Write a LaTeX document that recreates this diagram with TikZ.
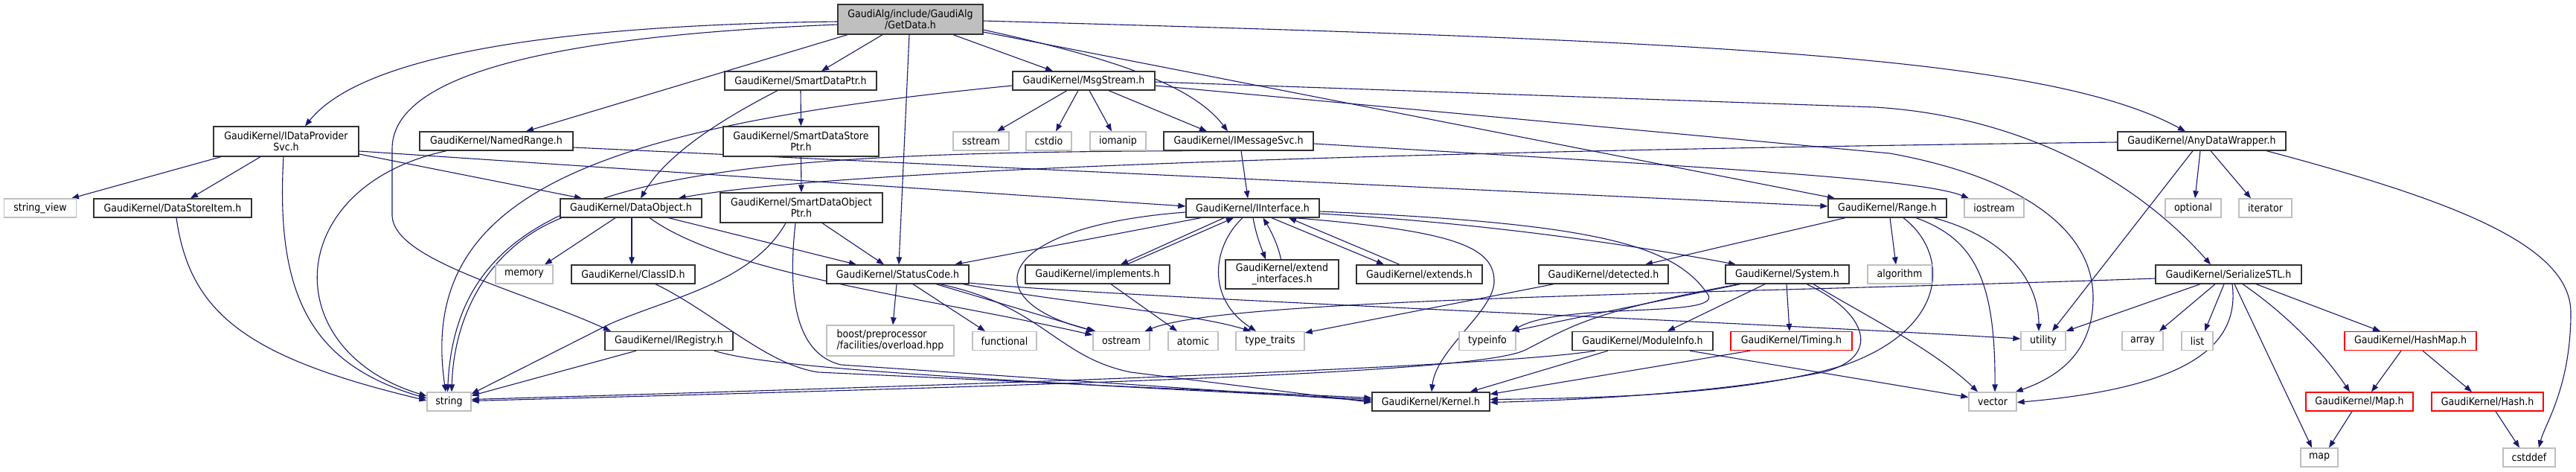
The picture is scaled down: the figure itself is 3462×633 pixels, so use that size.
\documentclass[tikz,border=0pt]{standalone}
\usepackage{fontspec}
\setmainfont{DejaVu Sans Condensed}
\usetikzlibrary{arrows.meta,calc}
\definecolor{edgec}{HTML}{191970}
\definecolor{greyb}{HTML}{BFBFBF}
\definecolor{rootf}{HTML}{BFBFBF}
\pgfdeclarelayer{bg}
\pgfsetlayers{bg,main}
\begin{document}
\begin{tikzpicture}[x=1pt,y=-1pt,
  every node/.style={font=\fontsize{14}{15}\selectfont, inner sep=0pt, align=center},
  hbox/.style={draw=black!80, line width=1.3pt, fill=white, minimum height=25pt},
  tbox/.style={hbox, minimum height=40pt},
  sbox/.style={draw=greyb, line width=1.3pt, fill=white, minimum height=25pt},
  rbox/.style={draw=red, line width=1.3pt, fill=white, minimum height=25pt},
  rootbox/.style={draw=black!80, line width=1.3pt, fill=rootf, minimum height=40pt},
  e/.style={draw=edgec, line width=1.1pt, -{Triangle[length=10pt,width=7.5pt]}}
]
\useasboundingbox (0,0) rectangle (3462,633);
\begin{pgfonlayer}{bg}
\fill[white] (0,0) rectangle (3462,633);
\end{pgfonlayer}

% ---------- nodes ----------
\node[rootbox, minimum width=195pt] (G) at (1223.5,26) {GaudiAlg/include/GaudiAlg\\/GetData.h};
\node[tbox, minimum width=195pt] (IDP) at (384.5,190) {GaudiKernel/IDataProvider\\Svc.h};
\node[hbox, minimum width=206pt] (NR) at (667,189.5) {GaudiKernel/NamedRange.h};
\node[hbox, minimum width=204pt] (SDP) at (1076,108.5) {GaudiKernel/SmartDataPtr.h};
\node[hbox, minimum width=191pt] (MS) at (1456.5,108.5) {GaudiKernel/MsgStream.h};
\node[tbox, minimum width=209pt] (SDSP) at (1076.5,190) {GaudiKernel/SmartDataStore\\Ptr.h};
\node[sbox, minimum width=75pt] (sstream) at (1318.5,189.5) {sstream};
\node[sbox, minimum width=61pt] (cstdio) at (1409.5,189.5) {cstdio};
\node[sbox, minimum width=75pt] (iomanip) at (1502.5,189.5) {iomanip};
\node[hbox, minimum width=201pt] (IMS) at (1664.5,189.5) {GaudiKernel/IMessageSvc.h};
\node[hbox, minimum width=226pt] (ADW) at (2959,189.5) {GaudiKernel/AnyDataWrapper.h};
\node[sbox, minimum width=97pt] (sv) at (54,279.5) {string\_view};
\node[hbox, minimum width=212pt] (DSI) at (232,279.5) {GaudiKernel/DataStoreItem.h};
\node[hbox, minimum width=190pt] (DO) at (848,279.5) {GaudiKernel/DataObject.h};
\node[tbox, minimum width=218pt] (SDOP) at (1077,279) {GaudiKernel/SmartDataObject\\Ptr.h};
\node[hbox, minimum width=179pt] (II) at (1683.5,279.5) {GaudiKernel/IInterface.h};
\node[hbox, minimum width=159pt] (R) at (2536.5,279.5) {GaudiKernel/Range.h};
\node[sbox, minimum width=80pt] (iostream) at (2680,279.5) {iostream};
\node[sbox, minimum width=75pt] (optional) at (2947.5,279.5) {optional};
\node[sbox, minimum width=71pt] (iterator) at (3044.5,279.5) {iterator};
\node[sbox, minimum width=77pt] (memory) at (704.5,368.5) {memory};
\node[hbox, minimum width=166pt] (ClassID) at (851,368.5) {GaudiKernel/ClassID.h};
\node[hbox, minimum width=191pt] (SC) at (1206.5,368.5) {GaudiKernel/StatusCode.h};
\node[hbox, minimum width=194pt] (impl) at (1475,368.5) {GaudiKernel/implements.h};
\node[tbox, minimum width=152pt, minimum height=39pt] (ExtI) at (1723,368.5) {GaudiKernel/extend\\\_interfaces.h};
\node[hbox, minimum width=169pt] (ext) at (1907.5,368.5) {GaudiKernel/extends.h};
\node[hbox, minimum width=174pt] (det) at (2155,368.5) {GaudiKernel/detected.h};
\node[hbox, minimum width=166pt] (Sys) at (2402,368.5) {GaudiKernel/System.h};
\node[sbox, minimum width=86pt] (alg) at (2553,368.5) {algorithm};
\node[hbox, minimum width=196pt] (SSTL) at (2995,368.5) {GaudiKernel/SerializeSTL.h};
\node[hbox, minimum width=172pt] (IReg) at (899,458) {GaudiKernel/IRegistry.h};
\node[sbox, minimum width=171pt, minimum height=41pt, align=left] (boost) at (1196.5,457.5) {boost/preprocessor\\/facilities/overload.hpp};
\node[sbox, minimum width=86pt] (functional) at (1350,458) {functional};
\node[sbox, minimum width=76pt] (ostream) at (1507,458) {ostream};
\node[sbox, minimum width=67pt] (atomic) at (1603.5,458) {atomic};
\node[sbox, minimum width=92pt] (tt) at (1707,458) {type\_traits};
\node[sbox, minimum width=76pt] (typeinfo) at (1999,458) {typeinfo};
\node[hbox, minimum width=189pt] (MI) at (2207.5,458) {GaudiKernel/ModuleInfo.h};
\node[rbox, minimum width=163pt] (Tim) at (2407.5,458) {GaudiKernel/Timing.h};
\node[sbox, minimum width=60pt] (utility) at (2746,458) {utility};
\node[sbox, minimum width=55pt] (array) at (2879.5,458) {array};
\node[sbox, minimum width=42pt] (list) at (2953,458) {list};
\node[rbox, minimum width=177pt] (HM) at (3239.5,458) {GaudiKernel/HashMap.h};
\node[sbox, minimum width=59pt] (string) at (603.5,539.5) {string};
\node[hbox, minimum width=158pt] (Kernel) at (1923,539.5) {GaudiKernel/Kernel.h};
\node[sbox, minimum width=64pt] (vector) at (2678,539.5) {vector};
\node[rbox, minimum width=144pt] (Map) at (3171,539.5) {GaudiKernel/Map.h};
\node[rbox, minimum width=150pt] (Hash) at (3343,539.5) {GaudiKernel/Hash.h};
\node[sbox, minimum width=50pt] (map) at (3117,614.5) {map};
\node[sbox, minimum width=70pt] (cstddef) at (3399,614.5) {cstddef};

% ---------- edges ----------
\begin{pgfonlayer}{bg}
% GetData.h
\draw[e] ($(G.west)+(0,3)$) .. controls (650,35) and (470,95) .. ($(IDP.north)+(25.5,0)$);
\draw[e] ($(G.west)+(0,7)$) .. controls (700,50) and (527,110) .. (527,200) -- (527,290) .. controls (530,350) and (700,390) .. ($(IReg.north)+(-78,0)$);
\draw[e] ($(G.south)+(-84.5,0)$) -- ($(NR.north)+(40,0)$);
\draw[e] ($(G.south)+(-37.5,0)$) -- ($(SDP.north)+(28,0)$);
\draw[e] ($(G.south)+(-1.5,0)$) -- ($(SC.north)+(1.5,0)$);
\draw[e] ($(G.south)+(57.5,0)$) -- ($(MS.north)+(-41.5,0)$);
\draw[e] ($(G.east)+(0,14)$) .. controls (1480,75) and (1600,110) .. ($(IMS.north)+(-14.5,0)$);
\draw[e] ($(G.east)+(0,2)$) .. controls (2300,55) and (2750,75) .. ($(ADW.north)+(-22,0)$);
\draw[e] ($(G.east)+(0,17)$) -- ($(R.north)+(-70.5,0)$);
% MsgStream.h
\draw[e] ($(MS.south)+(-22.5,0)$) -- ($(sstream.north)+(21.5,0)$);
\draw[e] ($(MS.south)+(-7.5,0)$) -- ($(cstdio.north)+(9.5,0)$);
\draw[e] ($(MS.south)+(7.5,0)$) -- ($(iomanip.north)+(-8.5,0)$);
\draw[e] ($(MS.south)+(33.5,0)$) -- ($(IMS.north)+(-42.5,0)$);
\draw[e] ($(MS.east)+(0,1.5)$) -- (2520,144) .. controls (2700,155) and (2860,230) .. ($(SSTL.north)+(-24,0)$);
\draw[e] ($(MS.east)+(0,6.5)$) -- (2540,206) .. controls (2700,235) and (2813,300) .. (2813,400) .. controls (2813,470) and (2770,505) .. ($(vector.north east)+(-2,0)$);
\draw[e] ($(MS.west)+(0,6.5)$) .. controls (800,170) and (560,260) .. ($(string.north)+(-4.5,0)$);
% IMessageSvc.h
\draw[e] ($(IMS.south)+(3.5,0)$) -- ($(II.north)+(-6.5,0)$);
\draw[e] ($(IMS.east)+(0,3.5)$) .. controls (2300,225) and (2580,240) .. ($(iostream.north)+(-34,0)$);
\draw[e] ($(IMS.south)+(-64.5,0)$) .. controls (900,205) and (615,240) .. ($(string.north)+(-2,0)$);
% AnyDataWrapper.h
\draw[e] ($(ADW.west)+(0,1.5)$) .. controls (2100,200) and (1150,222) .. ($(DO.north east)+(-32,0)$);
\draw[e] ($(ADW.south)+(-2,0)$) -- ($(optional.north)+(2.5,0)$);
\draw[e] ($(ADW.south)+(12,0)$) -- ($(iterator.north)+(-19.5,0)$);
\draw[e] ($(ADW.south)+(-12,0)$) -- ($(utility.north)+(12,0)$);
\draw[e] ($(ADW.south)+(87,0)$) .. controls (3300,270) and (3455,330) .. (3455,420) .. controls (3455,520) and (3420,570) .. ($(cstddef.north)+(13,0)$);
% SmartDataPtr.h etc.
\draw[e] (SDP.south) -- (SDSP.north);
\draw[e] ($(SDP.south)+(-31,0)$) .. controls (990,150) and (900,200) .. ($(DO.north)+(13,0)$);
\draw[e] (SDSP.south) -- (SDOP.north);
% IDataProviderSvc.h
\draw[e] ($(IDP.south)+(-87.5,0)$) -- ($(sv.north)+(42,0)$);
\draw[e] ($(IDP.south)+(-34.5,0)$) -- ($(DSI.north)+(24,0)$);
\draw[e] ($(IDP.south)+(-3.5,0)$) .. controls (370,400) and (420,490) .. ($(string.west)+(0,-4.5)$);
\draw[e] ($(IDP.east)+(0,17)$) -- ($(DO.north)+(-66,0)$);
\draw[e] ($(IDP.east)+(0,13)$) -- ($(II.west)+(0,-2.5)$);
% DataStoreItem.h, NamedRange.h
\draw[e] ($(DSI.south)+(5,0)$) .. controls (255,420) and (330,480) .. ($(string.west)+(0,-1.5)$);
\draw[e] ($(NR.south)+(-67,0)$) .. controls (380,250) and (370,470) .. ($(string.west)+(0,-7.5)$);
\draw[e] ($(NR.east)+(0,8.5)$) -- ($(R.west)+(0,-2.5)$);
% DataObject.h
\draw[e] ($(DO.south)+(-21,0)$) -- ($(memory.north)+(27.5,0)$);
\draw[e] ($(DO.south)+(1,0)$) -- ($(ClassID.north)+(-2,0)$);
\draw[e] ($(DO.south)+(50.5,0)$) -- ($(SC.north)+(-55.5,0)$);
\draw[e] ($(DO.south)+(25,0)$) .. controls (980,370) and (1250,400) .. ($(ostream.west)+(0,-8)$);
\draw[e] ($(DO.south)+(-93,0)$) .. controls (660,330) and (610,420) .. ($(string.north)+(3.5,0)$);
% ClassID.h, IRegistry.h
\draw[e] ($(ClassID.south)+(30,0)$) .. controls (960,420) and (1030,490) .. (1100,500) -- ($(Kernel.west)+(0,-5)$);
\draw[e] ($(IReg.south)+(-44,0)$) -- ($(string.east)+(0,-8)$);
\draw[e] ($(IReg.south)+(61,0)$) .. controls (1020,490) and (1200,505) .. ($(Kernel.west)+(0,-3)$);
% SmartDataObjectPtr.h
\draw[e] ($(SDOP.south)+(28,0)$) -- ($(SC.north)+(-18.5,0)$);
\draw[e] ($(SDOP.south)+(-21,0)$) .. controls (1010,380) and (900,400) .. (820,435) -- ($(string.east)+(0,-10.5)$);
\draw[e] ($(SDOP.south)+(-8,0)$) .. controls (1058,400) and (1070,475) .. (1130,490) -- ($(Kernel.west)+(0,-1)$);
% StatusCode.h
\draw[e] ($(SC.south)+(-1.5,0)$) -- ($(boost.north)+(3.5,0)$);
\draw[e] ($(SC.south)+(20.5,0)$) -- ($(functional.north)+(-26,0)$);
\draw[e] ($(SC.south)+(51.5,0)$) -- ($(ostream.north west)+(2,0)$);
\draw[e] ($(SC.south)+(56.5,0)$) .. controls (1400,410) and (1420,480) .. (1520,500) -- ($(Kernel.west)+(0,1)$);
\draw[e] ($(SC.south)+(87.5,0)$) .. controls (1450,410) and (1600,420) .. ($(tt.north)+(-26,0)$);
\draw[e] ($(SC.east)+(0,11.5)$) .. controls (1500,400) and (2300,430) .. ($(utility.west)+(0,-3)$);
% IInterface.h
\draw[e] ($(II.south)+(-69.5,0)$) -- ($(SC.north)+(76.5,0)$);
\draw[e] ($(II.south)+(-38.5,0)$) -- ($(impl.north)+(31,0)$);
\draw[e] ($(impl.north)+(39,0)$) -- ($(II.south)+(-25.5,0)$);
\draw[e] ($(II.south)+(0.5,0)$) .. controls (1688,315) and (1694,330) .. ($(ExtI.north)+(-22,0)$);
\draw[e] ($(ExtI.north)+(-1.5,0)$) .. controls (1718,330) and (1708,310) .. ($(II.south)+(14,0)$);
\draw[e] ($(II.south)+(25.5,0)$) -- ($(ext.north)+(-47.5,0)$);
\draw[e] ($(ext.north)+(-26.5,0)$) -- ($(II.south)+(48.5,0)$);
\draw[e] ($(II.west)+(0,5.5)$) .. controls (1330,305) and (1310,405) .. ($(ostream.north west)+(4,0)$);
\draw[e] ($(II.south)+(-13.5,0)$) .. controls (1630,330) and (1620,400) .. ($(tt.north)+(-19,0)$);
\draw[e] ($(II.south)+(56.5,0)$) .. controls (1950,310) and (2010,330) .. (2008,380) .. controls (2005,420) and (1930,470) .. ($(Kernel.north)+(1,0)$);
\draw[e] ($(II.east)+(0,7.5)$) .. controls (2000,300) and (2200,330) .. ($(Sys.north)+(-69,0)$);
\draw[e] ($(II.east)+(0,4.5)$) .. controls (2150,300) and (2250,330) .. (2295,395) .. controls (2318,428) and (2100,405) .. ($(typeinfo.north east)+(-6,0)$);
% Range.h
\draw[e] ($(R.south)+(-56.5,0)$) -- ($(det.north)+(56,0)$);
\draw[e] ($(R.south)+(3.5,0)$) -- ($(alg.north)+(-5,0)$);
\draw[e] ($(R.south)+(21.5,0)$) .. controls (2620,340) and (2620,440) .. (2480,490) .. controls (2350,530) and (2150,535) .. ($(Kernel.east)+(0,-3)$);
\draw[e] ($(R.south)+(38.5,0)$) .. controls (2650,320) and (2682,370) .. ($(vector.north)+(3,0)$);
\draw[e] ($(R.south)+(62.5,0)$) .. controls (2700,320) and (2740,380) .. ($(utility.north)+(-6,0)$);
% detected.h
\draw[e] ($(det.south)+(-67,0)$) -- ($(tt.east)+(0,-11)$);
% System.h
\draw[e] ($(Sys.south)+(-63,0)$) -- ($(typeinfo.north east)+(-6,0)$);
\draw[e] ($(Sys.south)+(-65,0)$) .. controls (2130,420) and (2110,440) .. (2050,470) .. controls (1990,500) and (1500,515) .. ($(string.east)+(0,-1)$);
\draw[e] ($(Sys.south)+(-30,0)$) -- ($(MI.north)+(33.5,0)$);
\draw[e] ($(Sys.south)+(-1,0)$) -- ($(Tim.north)+(-2.5,0)$);
\draw[e] ($(Sys.south)+(26,0)$) .. controls (2510,420) and (2530,480) .. (2450,500) .. controls (2300,530) and (2100,538) .. ($(Kernel.east)+(0,1)$);
\draw[e] ($(Sys.south)+(35,0)$) .. controls (2500,420) and (2600,470) .. ($(vector.north)+(-20,0)$);
% ModuleInfo.h, Timing.h, implements.h
\draw[e] ($(MI.south)+(-63.5,0)$) .. controls (2000,495) and (1200,520) .. ($(string.east)+(0,-3)$);
\draw[e] ($(MI.south)+(-46.5,0)$) -- ($(Kernel.north east)+(-27,0)$);
\draw[e] ($(MI.south)+(63.5,0)$) -- ($(vector.west)+(0,-6)$);
\draw[e] ($(Tim.south)+(-55.5,0)$) -- ($(Kernel.east)+(0,-10)$);
\draw[e] ($(impl.south)+(18,0)$) -- ($(atomic.north)+(-21.5,0)$);
% SerializeSTL.h
\draw[e] ($(SSTL.west)+(0,5.5)$) .. controls (2300,395) and (1650,400) .. ($(ostream.north east)+(-7,0)$);
\draw[e] ($(SSTL.south)+(-38,0)$) -- (utility.north east);
\draw[e] ($(SSTL.south)+(-18,0)$) -- ($(array.north)+(22.5,0)$);
\draw[e] ($(SSTL.south)+(-6,0)$) -- ($(list.north)+(10,0)$);
\draw[e] ($(SSTL.south)+(5,0)$) .. controls (3010,460) and (2950,520) .. ($(vector.east)+(0,1)$);
\draw[e] ($(SSTL.south)+(8,0)$) -- ($(map.north)+(-10,0)$);
\draw[e] ($(SSTL.south)+(19,0)$) .. controls (3070,420) and (3120,470) .. ($(Map.north)+(-13,0)$);
\draw[e] ($(SSTL.south)+(37,0)$) -- ($(HM.north)+(-40.5,0)$);
% HashMap.h, Map.h, Hash.h
\draw[e] ($(HM.south)+(-12.5,0)$) -- ($(Map.north)+(16,0)$);
\draw[e] ($(HM.south)+(16.5,0)$) -- ($(Hash.north)+(-21,0)$);
\draw[e] ($(Map.south)+(-10,0)$) -- ($(map.north)+(13,0)$);
\draw[e] ($(Hash.south)+(11,0)$) -- ($(cstddef.north)+(-13,0)$);
\end{pgfonlayer}
\end{tikzpicture}
\end{document}
